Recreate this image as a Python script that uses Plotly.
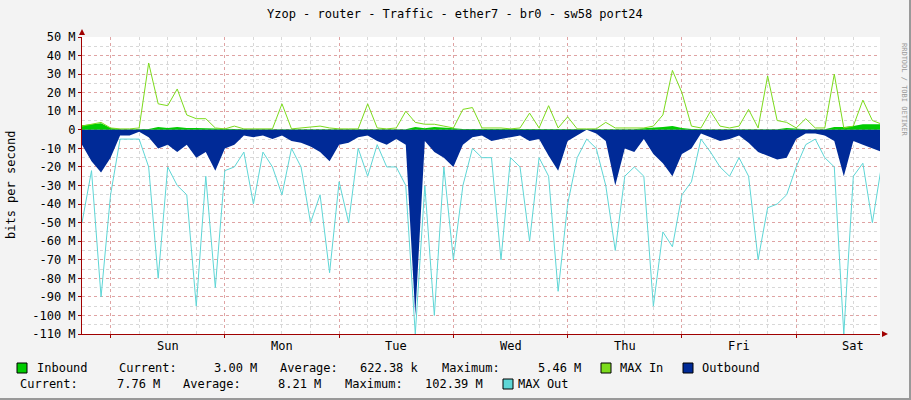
import plotly.graph_objects as go

# Hours relative to Sunday 00:00, one sample every 2 hours (Sat 18:00 .. Sat 16:00)
HOURS = list(range(-6, 163, 2))

# Values in Mbit/s (outbound drawn below zero)
inbound = [2.5, 3, 3.5, 1, 0.3, 0.3, 0.3, 0.5, 1.5, 1, 1.5, 1, 1, 0.8,
           0.5, 0.3, 0.5, 0.3, 0.3, 0.3, 0.3, 0.4, 0.5, 0.5, 0.6, 0.5, 0.3, 0.3,
           0.3, 0.3, 0.3, 0.6, 0.3, 0.3, 0.3, 1.5, 0.8, 1.5, 1, 0.8, 0.5, 0.5,
           0.3, 0.3, 0.3, 0.3, 0.5, 0.3, 0.5, 0.3, 0.5, 0.3, 0.3, 0.3, 0.3, 0.3,
           0.3, 0.3, 0.3, 0.8, 1, 1.5, 2, 1, 0.5, 0.3, 0.3, 0.3, 0.3, 0.3,
           0.3, 0.3, 0.5, 0.3, 1, 0.5, 0.3, 0.3, 0.3, 1.5, 1.5, 2, 3, 3, 3]
max_in = [2, 3, 4, 1, 0.5, 0.5, 1, 36, 14, 13, 22, 8, 6, 6,
          1, 0.5, 2, 0.5, 0.5, 0.5, 0.5, 14, 0.5, 1, 1.5, 2, 1, 0.5,
          0.5, 0.5, 14, 1, 0.5, 1, 10, 4, 3, 3, 2, 1, 11, 12,
          1, 1, 1, 0.5, 1, 9, 1, 13, 1, 7, 0.5, 0.5, 0.5, 4,
          1, 1, 1, 1, 2, 8, 32, 20, 2, 1, 10, 2, 1, 2,
          11, 1, 29, 5, 4, 1, 6, 1, 1, 30, 1, 2, 16, 5, 3]
outbound = [-8, -17, -23, -15, -3, -3, -1, -4, -10, -8, -12, -8, -15, -12,
            -22, -10, -8, -3, -4, -3, -5, -3, -6, -7, -9, -12, -17, -8,
            -7, -4, -3, -6, -8, -5, -8, -100, -6, -12, -15, -20, -8, -4,
            -3, -6, -5, -4, -3, -6, -5, -14, -22, -6, -3, 0, -2, -6,
            -30, -10, -12, -5, -13, -18, -25, -13, -10, -2, -4, -6, -5, -3,
            -7, -12, -14, -16, -15, -5, -2, -2, -3, -6, -25, -6, -8, -10, -12]
max_out = [-50, -22, -90, -35, -5, -5, -5, -20, -80, -20, -30, -35, -95, -25,
           -85, -22, -20, -12, -40, -12, -20, -35, -10, -20, -50, -35, -77, -28,
           -50, -10, -25, -8, -20, -20, -30, -110, -30, -100, -20, -70, -30, -10,
           -15, -15, -70, -15, -20, -60, -15, -25, -87, -40, -15, -5, -10, -30,
           -65, -25, -20, -25, -95, -55, -63, -35, -28, -5, -12, -20, -25, -15,
           -25, -70, -42, -40, -35, -20, -8, -5, -15, -20, -110, -25, -18, -50, -18]

DAYS = ['Sun', 'Mon', 'Tue', 'Wed', 'Thu', 'Fri', 'Sat']
Y_TICKS = list(range(-110, 51, 10))
Y_LABELS = [('0' if v == 0 else f'{v} M') for v in Y_TICKS]

MONO = 'DejaVu Sans Mono'
W, H = 911, 400
L, R, T, B = 82, 880, 37, 334   # plot area in pixels


def px(x):   # pixel -> paper x
    return (x - L) / (R - L)


def py(y):   # pixel -> paper y
    return (B - y) / (B - T)


def text(x, y, s, size=12, color='#000', xanchor='left', angle=0):
    return dict(x=px(x), y=py(y), xref='paper', yref='paper', text=s,
                showarrow=False, xanchor=xanchor, yanchor='middle', textangle=angle,
                font=dict(family=MONO, size=size, color=color))


fig = go.Figure()
fig.add_trace(go.Scatter(x=HOURS, y=inbound, mode='lines', line=dict(width=0),
                         fill='tozeroy', fillcolor='#00CC00', hoverinfo='skip'))
fig.add_trace(go.Scatter(x=HOURS, y=max_in, mode='lines',
                         line=dict(color='#7CDB1C', width=1)))
fig.add_trace(go.Scatter(x=HOURS, y=outbound, mode='lines', line=dict(width=0),
                         fill='tozeroy', fillcolor='#002A97', hoverinfo='skip'))
fig.add_trace(go.Scatter(x=HOURS, y=max_out, mode='lines',
                         line=dict(color='#5ED6D6', width=1)))

ann = []
for i, d in enumerate(DAYS):
    ann.append(dict(x=12 + 24 * i, y=py(346), xref='x', yref='paper', text=d,
                    showarrow=False, xanchor='center', yanchor='middle',
                    font=dict(family=MONO, size=12, color='#000')))

ann.append(text(455, 14, 'Yzop - router - Traffic - ether7 - br0 - sw58 port24',
                xanchor='center'))
ann.append(text(11, 185, 'bits per second', xanchor='center', angle=-90))
ann.append(text(904, 90, 'RRDTOOL / TOBI OETIKER', size=7, color='#999',
                xanchor='center', angle=90))

legend_rows = [
    (368, [(35, 'Inbound'), (117, 'Current:'), (212, '3.00 M'), (278, 'Average:'),
           (358, '622.38 k'), (440, 'Maximum:'), (536, '5.46 M'), (618, 'MAX In'),
           (700, 'Outbound')]),
    (384, [(18, 'Current:'), (115, '7.76 M'), (181, 'Average:'), (276, '8.21 M'),
           (343, 'Maximum:'), (423, '102.39 M'), (516, 'MAX Out')]),
]
for yy, items in legend_rows:
    for xx, txt in items:
        ann.append(text(xx, yy, txt))

shapes = []
for x0, y0, col in [(17, 368, '#00CC00'), (601, 368, '#7CDB1C'),
                    (683, 368, '#002A97'), (503, 384, '#5ED6D6')]:
    shapes.append(dict(type='rect', xref='paper', yref='paper',
                       x0=px(x0), x1=px(x0 + 10), y0=py(y0 + 5), y1=py(y0 - 5),
                       fillcolor=col, line=dict(color='#000', width=1)))
# axis arrows
shapes.append(dict(type='path', xref='paper', yref='paper', fillcolor='#A00000',
                   line=dict(width=0),
                   path=f'M {px(882)},{py(331)} L {px(888)},{py(334)} L {px(882)},{py(337)} Z'))
shapes.append(dict(type='path', xref='paper', yref='paper', fillcolor='#A00000',
                   line=dict(width=0),
                   path=f'M {px(79)},{py(35)} L {px(82)},{py(29)} L {px(85)},{py(35)} Z'))
# frame edges
shapes.append(dict(type='line', xref='paper', yref='paper', x0=px(0), x1=px(W),
                   y0=py(399), y1=py(399), line=dict(color='#999', width=2)))
shapes.append(dict(type='line', xref='paper', yref='paper', x0=px(910), x1=px(910),
                   y0=py(0), y1=py(400), line=dict(color='#999', width=2)))

fig.update_layout(
    width=W, height=H,
    margin=dict(l=L, r=W - R, t=T, b=H - B),
    paper_bgcolor='#F3F3F3', plot_bgcolor='#FFFFFF',
    showlegend=False,
    annotations=ann, shapes=shapes,
    xaxis=dict(range=[-6, 161.6], tickvals=[24 * i for i in range(7)],
               ticktext=[''] * 7, ticks='outside', ticklen=3, tickcolor='#A00000',
               showgrid=True, gridcolor='rgba(230,120,120,0.55)', griddash='dot',
               minor=dict(tickvals=[6 * i for i in range(-1, 27)], showgrid=True,
                          gridcolor='#D8D8D8', griddash='dot'),
               showline=True, linecolor='#A00000', linewidth=1, zeroline=False),
    yaxis=dict(range=[-110, 50], tickvals=Y_TICKS, ticktext=Y_LABELS,
               tickfont=dict(family=MONO, size=12, color='#000'),
               ticks='outside', ticklen=3, tickcolor='#A00000',
               showgrid=True, gridcolor='rgba(230,120,120,0.55)', griddash='dot',
               minor=dict(dtick=5, showgrid=True, gridcolor='#D8D8D8', griddash='dot'),
               showline=True, linecolor='#A00000', linewidth=1, zeroline=False),
)

# the browser's default 8px body margin would shift the whole picture
fig.write_html('out.html', config={'displayModeBar': False},
               post_script="document.body.style.margin='0';")
